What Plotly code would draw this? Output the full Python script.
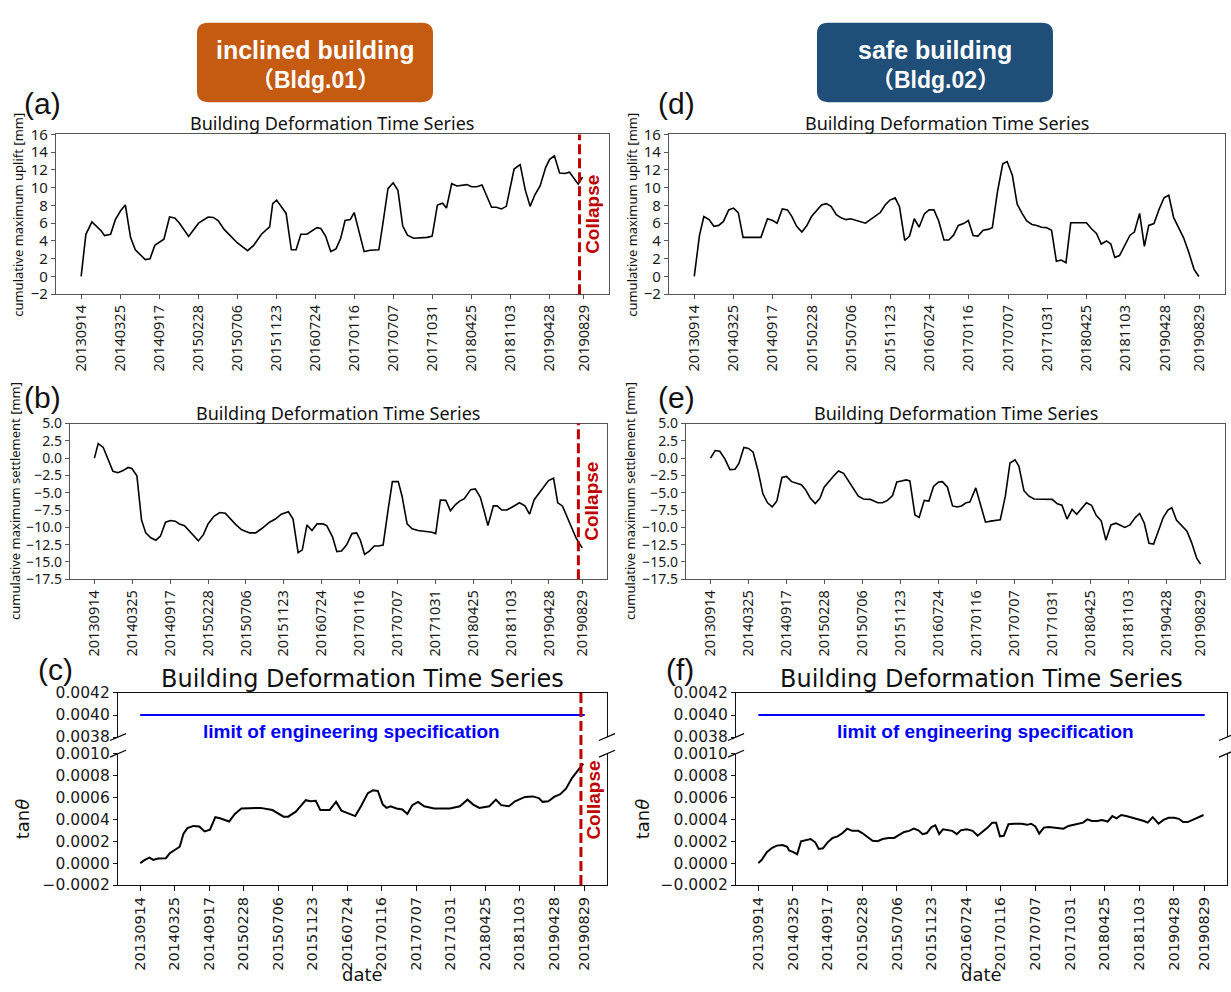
import plotly.graph_objects as go

W, H = 1231, 992

# ---------------- data ----------------
dates = ["20130914", "20140325", "20140917", "20150228", "20150706", "20151123", "20160724",
         "20170116", "20170707", "20171031", "20180425", "20181103", "20190428", "20190829"]
tick_idx = [0, 9, 18, 27, 36, 45, 54, 63, 72, 81, 90, 99, 108, 116]
collapse_idx = 115
limit_tan = 0.0040

# (a) Bldg.01 cumulative maximum uplift [mm]
a_idx = [0, 1.1, 2.5, 4.7, 5.4, 6.8, 7.9, 9.1, 10.2, 11.4, 12.5, 14.8, 15.9, 17.0, 19.1, 20.4, 21.6, 22.7,
         24.8, 27.1, 29.3, 30.5, 31.6, 33.0, 36.0, 38.4, 39.8, 41.6, 43.5, 44.2, 45.1, 47.3, 48.5, 49.6,
         50.7, 52.1, 54.4, 55.3, 56.4, 57.6, 58.8, 59.9, 60.9, 62.1, 63.0, 64.2, 65.3, 66.7, 68.7, 69.7,
         70.8, 72.0, 73.1, 74.2, 75.3, 76.7, 79.9, 81.0, 82.2, 83.4, 84.3, 85.5, 86.7, 89.0, 90.1, 91.3,
         92.5, 94.7, 95.8, 97.0, 98.1, 99.9, 101.3, 102.5, 103.6, 104.7, 105.9, 107.2, 108.1, 109.2,
         110.4, 111.6, 112.7, 114.7, 115.7]
a_val = [0.0, 4.75, 6.15, 5.1, 4.6, 4.75, 6.4, 7.4, 8.05, 4.4, 3.0, 1.9, 2.0, 3.5, 4.2, 6.7, 6.6, 6.0,
         4.5, 6.0, 6.7, 6.65, 6.3, 5.3, 3.8, 2.9, 3.5, 4.75, 5.6, 8.2, 8.6, 7.1, 3.0, 3.0, 4.75, 4.75,
         5.5, 5.4, 4.55, 2.8, 3.1, 4.3, 6.3, 6.4, 7.2, 4.75, 2.8, 2.95, 3.0, 6.2, 9.9, 10.55, 9.7, 5.7,
         4.65, 4.3, 4.4, 4.55, 8.05, 8.25, 7.7, 10.45, 10.2, 10.35, 10.1, 10.1, 10.3, 7.8, 7.8, 7.6, 7.9,
         12.1, 12.6, 9.7, 7.9, 9.2, 10.2, 12.3, 13.2, 13.6, 11.65, 11.6, 11.75, 10.4, 11.2]

# (b) Bldg.01 cumulative maximum settlement [mm]
b_idx = [0, 0.9, 2.1, 3.3, 4.4, 5.6, 6.8, 8.0, 8.9, 10.1, 11.2, 12.2, 13.4, 14.6, 15.7, 16.9, 18.1, 19.2,
         20.2, 21.4, 22.6, 23.7, 24.7, 25.9, 27.0, 28.4, 29.8, 31.1, 32.2, 33.6, 35.0, 36.9, 38.3, 39.7,
         41.6, 43.0, 44.4, 46.1, 47.2, 48.4, 49.4, 50.5, 51.7, 52.9, 54.3, 55.2, 56.6, 57.6, 58.7, 59.9,
         61.2, 62.3, 63.2, 64.2, 65.4, 66.5, 67.5, 68.6, 69.8, 70.8, 72.2, 73.1, 74.3, 75.5, 76.9, 79.2,
         80.2, 81.1, 82.2, 83.5, 84.6, 85.8, 86.8, 87.9, 89.4, 90.5, 91.7, 92.7, 93.5, 94.8, 95.7, 96.8,
         98.0, 99.3, 101.0, 102.3, 103.4, 104.5, 105.6, 107.9, 109.1, 110.1, 111.2, 113.1, 114.5, 115.9]
b_val = [0.0, 2.1, 1.55, -0.2, -1.9, -2.1, -1.8, -1.35, -1.5, -2.55, -8.95, -10.8, -11.5, -11.85, -11.25,
         -9.25, -9.0, -9.1, -9.5, -9.75, -10.55, -11.4, -11.95, -11.05, -9.5, -8.4, -7.85, -7.95, -8.7,
         -9.6, -10.35, -10.8, -10.8, -10.2, -9.25, -8.8, -8.1, -7.75, -8.8, -13.65, -13.25, -9.65, -10.45,
         -9.5, -9.5, -9.75, -11.4, -13.5, -13.4, -12.55, -10.9, -10.8, -11.85, -13.9, -13.4, -12.7, -12.7,
         -12.55, -7.4, -3.4, -3.4, -5.5, -9.5, -10.2, -10.45, -10.6, -10.7, -10.9, -6.05, -6.1, -7.6, -6.7,
         -6.2, -5.85, -4.55, -4.45, -5.65, -7.85, -9.75, -6.9, -6.9, -7.5, -7.5, -7.05, -6.45, -6.9, -8.1,
         -6.0, -5.05, -3.25, -2.9, -6.45, -6.9, -9.5, -11.6, -12.95]

# (c) Bldg.01 tan(theta), in units of 1e-4
c_idx = [0, 1.2, 2.4, 3.4, 4.6, 6.7, 7.7, 9.0, 10.3, 11.3, 12.3, 13.9, 15.4, 16.8, 18.2, 19.6, 20.8, 23.2,
         24.7, 26.4, 28.3, 31.4, 34.5, 37.4, 38.6, 40.6, 43.2, 44.4, 45.8, 47.0, 49.4, 51.1, 52.5, 54.0,
         56.1, 57.6, 59.4, 60.7, 62.0, 63.3, 64.3, 65.3, 66.9, 68.4, 69.7, 71.0, 72.5, 74.1, 76.7, 80.8,
         83.4, 85.4, 86.9, 88.5, 91.1, 92.8, 94.2, 96.2, 97.8, 100.4, 102.4, 104.0, 105.0, 106.5, 108.0,
         109.6, 111.1, 112.7, 114.2, 115.6]
c_val = [0.0, 0.3, 0.5, 0.3, 0.42, 0.45, 0.9, 1.2, 1.5, 2.7, 3.2, 3.4, 3.35, 2.9, 3.05, 4.2, 4.1, 3.8,
         4.5, 5.0, 5.0, 5.05, 4.85, 4.25, 4.25, 4.7, 5.75, 5.65, 5.7, 4.85, 4.85, 5.6, 4.8, 4.6, 4.3, 5.2,
         6.4, 6.65, 6.6, 5.35, 5.05, 5.2, 5.0, 4.9, 4.5, 5.3, 5.6, 5.2, 5.0, 5.0, 5.2, 5.8, 5.35, 5.05,
         5.2, 5.8, 5.3, 5.2, 5.65, 6.05, 6.1, 5.95, 5.6, 5.65, 6.05, 6.3, 6.8, 7.8, 8.5, 9.1]

# (d) Bldg.02 cumulative maximum uplift [mm]
d_idx = [0, 1.2, 2.2, 3.4, 4.5, 5.6, 6.7, 7.9, 9.0, 10.1, 11.2, 15.3, 16.8, 18.0, 19.0, 20.2, 21.4, 22.4,
         23.5, 24.7, 25.8, 26.9, 29.2, 30.3, 31.4, 32.6, 33.7, 34.8, 35.9, 37.1, 38.2, 39.3, 40.4, 42.7,
         43.8, 44.9, 46.1, 47.1, 48.3, 49.4, 50.5, 51.6, 52.8, 53.9, 55.0, 56.1, 57.3, 58.4, 59.5, 60.6,
         61.8, 62.9, 64.0, 65.1, 66.3, 67.4, 68.4, 69.6, 70.8, 71.8, 73.0, 74.1, 75.3, 76.3, 77.5, 78.6,
         79.7, 80.8, 82.0, 83.1, 84.2, 85.3, 86.4, 88.6, 90.0, 91.1, 92.3, 93.4, 94.6, 95.6, 96.5, 97.6,
         98.8, 100.0, 101.0, 102.2, 103.3, 104.3, 105.5, 106.7, 107.8, 108.9, 110.0, 111.2, 112.3, 113.4,
         114.7, 115.8]
d_val = [0.0, 4.65, 6.75, 6.4, 5.65, 5.75, 6.2, 7.5, 7.7, 7.2, 4.4, 4.4, 6.5, 6.3, 6.0, 7.6, 7.5, 6.75,
         5.65, 5.0, 5.7, 6.75, 8.05, 8.2, 7.9, 6.95, 6.6, 6.4, 6.5, 6.3, 6.1, 6.0, 6.4, 7.2, 8.05, 8.6,
         8.85, 7.85, 4.05, 4.55, 6.5, 5.55, 7.05, 7.5, 7.5, 6.25, 4.1, 4.1, 4.65, 5.75, 5.95, 6.3, 4.6,
         4.55, 5.2, 5.3, 5.5, 9.6, 12.7, 12.95, 11.4, 8.15, 7.05, 6.25, 5.85, 5.75, 5.55, 5.5, 5.2, 1.7,
         1.85, 1.55, 6.05, 6.1, 6.05, 5.4, 4.85, 3.65, 4.0, 3.65, 2.15, 2.35, 3.55, 4.65, 5.0, 7.1, 3.4,
         5.75, 5.95, 7.6, 8.85, 9.15, 6.65, 5.4, 4.35, 2.85, 0.8, 0.0]

# (e) Bldg.02 cumulative maximum settlement [mm]
e_idx = [0, 1.1, 2.2, 3.4, 4.6, 5.8, 6.7, 7.9, 9.0, 10.1, 11.3, 12.4, 13.5, 14.6, 15.7, 16.9, 18.0, 19.2,
         21.5, 22.5, 23.6, 24.8, 25.9, 26.9, 29.2, 30.3, 31.5, 32.7, 33.9, 35.0, 36.2, 37.8, 38.7, 39.6,
         40.7, 41.9, 43.1, 44.1, 45.2, 46.3, 47.2, 48.4, 49.4, 50.6, 51.7, 52.8, 54.0, 54.9, 56.1, 57.3,
         58.4, 59.4, 60.5, 61.4, 62.8, 63.9, 65.1, 66.3, 67.5, 68.6, 69.8, 70.9, 72.1, 73.0, 74.2, 75.4,
         76.6, 78.6, 80.9, 82.1, 83.2, 84.4, 85.6, 86.7, 87.9, 89.0, 90.2, 91.3, 92.5, 93.6, 94.8, 96.0,
         98.1, 99.3, 100.6, 101.6, 102.7, 103.8, 104.9, 106.2, 107.2, 108.3, 109.2, 110.3, 111.5, 112.8,
         113.9, 115.1, 116.0]
e_val = [0.0, 1.1, 1.0, -0.1, -1.65, -1.6, -0.8, 1.55, 1.4, 0.85, -1.95, -5.15, -6.45, -7.05, -6.2, -2.8,
         -2.65, -3.4, -3.85, -4.55, -5.75, -6.55, -5.8, -4.2, -2.55, -1.85, -2.2, -3.3, -4.4, -5.5, -5.9,
         -5.95, -6.2, -6.45, -6.45, -6.1, -5.4, -3.45, -3.3, -3.15, -3.3, -8.2, -8.55, -6.1, -6.2, -4.1,
         -3.45, -3.4, -4.2, -6.9, -7.05, -6.9, -6.45, -6.35, -4.3, -6.7, -9.25, -9.1, -9.05, -8.9, -5.5,
         -0.7, -0.25, -1.15, -4.7, -5.5, -5.9, -5.95, -5.95, -6.6, -6.8, -8.8, -7.4, -8.1, -7.3, -6.45,
         -6.8, -8.25, -9.05, -11.85, -9.65, -9.4, -10.0, -9.65, -8.55, -8.0, -9.4, -12.3, -12.4, -10.3,
         -8.55, -7.5, -7.15, -8.95, -9.65, -10.55, -12.2, -14.45, -15.3]

# (f) Bldg.02 tan(theta), in units of 1e-4
f_idx = [0, 0.9, 2.2, 3.6, 4.8, 6.3, 7.5, 8.0, 9.1, 10.1, 11.1, 12.4, 13.6, 14.8, 15.7, 16.8, 18.0, 19.3,
         20.6, 21.9, 23.1, 24.4, 26.0, 27.0, 28.2, 29.7, 31.0, 32.3, 33.8, 35.3, 36.5, 37.9, 39.2, 40.4,
         41.6, 42.7, 43.8, 45.0, 46.0, 47.0, 48.0, 49.4, 50.4, 51.6, 52.6, 54.1, 55.7, 57.0, 58.2, 59.6,
         60.8, 61.8, 62.8, 63.8, 65.0, 66.4, 68.4, 69.9, 70.9, 72.0, 73.0, 74.2, 75.5, 76.9, 78.1, 79.3,
         80.6, 81.9, 83.2, 84.4, 85.5, 86.7, 88.1, 89.3, 90.8, 92.0, 93.1, 94.3, 95.6, 97.2, 98.9, 100.2,
         101.2, 102.5, 104.0, 105.3, 106.6, 108.1, 109.3, 110.4, 111.6, 112.9, 114.5, 115.7]
f_val = [0.0, 0.3, 1.0, 1.4, 1.6, 1.65, 1.5, 1.15, 1.0, 0.8, 2.0, 2.1, 2.2, 1.9, 1.3, 1.35, 1.9, 2.3,
         2.45, 2.75, 3.15, 2.95, 2.95, 2.75, 2.45, 2.05, 2.0, 2.2, 2.3, 2.3, 2.55, 2.85, 2.95, 3.15, 3.0,
         2.65, 2.75, 3.3, 3.45, 2.65, 3.1, 3.05, 2.95, 2.65, 3.0, 3.1, 2.95, 2.5, 2.85, 3.25, 3.7, 3.7,
         2.45, 2.5, 3.55, 3.6, 3.6, 3.5, 3.6, 3.35, 2.7, 3.25, 3.3, 3.25, 3.2, 3.15, 3.4, 3.5, 3.55, 3.7,
         4.0, 3.85, 3.85, 3.95, 3.8, 4.3, 4.1, 4.4, 4.3, 4.15, 4.0, 3.85, 3.7, 4.2, 3.6, 3.95, 4.15, 4.15,
         4.05, 3.75, 3.75, 3.95, 4.15, 4.4]

uplift_ticks = [-2, 0, 2, 4, 6, 8, 10, 12, 14, 16]
settle_ticks = [-17.5, -15.0, -12.5, -10.0, -7.5, -5.0, -2.5, 0.0, 2.5, 5.0]
tan_up_ticks = [0.0038, 0.0040, 0.0042]
tan_low_ticks = [-0.0002, 0.0, 0.0002, 0.0004, 0.0006, 0.0008, 0.0010]
TAN_UNIT = 1e-4

# ---------------- layout helpers (pixel boxes) ----------------
def fx(px):
    return px / W


def fy(py):
    return 1 - py / H


boxes = {
    "a": (56, 126, 609, 289),
    "b": (70, 421, 607, 580),
    "c_up": (118, 696, 607, 741),
    "c_low": (118, 758, 607, 892),
    "d": (669, 126, 1225, 289),
    "e": (686, 421, 1225, 580),
    "f_up": (736, 696, 1227, 741),
    "f_low": (736, 758, 1227, 892),
}
order = ["a", "b", "c_up", "c_low", "d", "e", "f_up", "f_low"]
num = {k: i + 1 for i, k in enumerate(order)}


def ax_names(k):
    n = num[k]
    return ("x" if n == 1 else f"x{n}"), ("y" if n == 1 else f"y{n}")


XR = [-5.8, 121.8]
SANS = "Noto Sans, Open Sans, DejaVu Sans, sans-serif"
DJV = "DejaVu Sans, sans-serif"
ARIAL = "Liberation Sans, Arial, sans-serif"
NARROW = "Liberation Sans Narrow, Liberation Sans, Arial, sans-serif"
RED = "#C00000"
BLUE = "#0000FF"

fig = go.Figure()

# ---------------- traces ----------------
def add_line(k, xs, ys, width, color="black"):
    xa, ya = ax_names(k)
    fig.add_trace(go.Scatter(x=xs, y=ys, mode="lines", xaxis=xa, yaxis=ya,
                             line=dict(color=color, width=width), showlegend=False,
                             hoverinfo="skip"))


add_line("a", a_idx, a_val, 1.6)
add_line("b", b_idx, b_val, 1.6)
add_line("c_low", c_idx, [v * TAN_UNIT for v in c_val], 2.0)
add_line("d", d_idx, d_val, 1.6)
add_line("e", e_idx, e_val, 1.6)
add_line("f_low", f_idx, [v * TAN_UNIT for v in f_val], 2.0)
add_line("c_up", [tick_idx[0], tick_idx[-1]], [limit_tan, limit_tan], 2.0, BLUE)
add_line("f_up", [tick_idx[0], tick_idx[-1]], [limit_tan, limit_tan], 2.0, BLUE)

# ---------------- axes ----------------
layout_axes = {}
for k in order:
    x0, y0, x1, y1 = boxes[k]
    n = num[k]
    xkey = "xaxis" if n == 1 else f"xaxis{n}"
    ykey = "yaxis" if n == 1 else f"yaxis{n}"
    xa, ya = ax_names(k)
    tan_panel = k.startswith("c") or k.startswith("f")
    if tan_panel:
        ysize = 15.5
    elif k in ("b", "e"):
        ysize = 14
    else:
        ysize = 15
    ytick_font = dict(family=DJV if tan_panel else SANS, size=ysize, color="#1a1a1a")
    xtick_font = dict(family=DJV if tan_panel else SANS, size=14.5, color="#1a1a1a")
    line_col = "#111" if tan_panel else "#555"
    xd = dict(domain=[fx(x0), fx(x1)], anchor=ya, range=XR, showgrid=False, zeroline=False,
              showline=True, linecolor=line_col, linewidth=1.2)
    yd = dict(domain=[fy(y1), fy(y0)], anchor=xa, showgrid=False, zeroline=False,
              showline=True, mirror=True, linecolor=line_col, linewidth=1.2,
              ticks="outside", ticklen=4, tickcolor=line_col, tickfont=ytick_font)
    if k.endswith("_up"):
        xd.update(side="top", showticklabels=False, ticks="")
    else:
        xd.update(tickmode="array", tickvals=tick_idx, ticktext=dates, tickangle=-90,
                  ticks="outside", ticklen=5 if tan_panel else 4, tickcolor=line_col,
                  tickfont=xtick_font)
        if not k.endswith("_low"):
            xd.update(mirror=True)
    if k in ("a", "d"):
        yd.update(range=[-2, 16], tickmode="array", tickvals=uplift_ticks)
    elif k in ("b", "e"):
        yd.update(range=[-17.5, 5], tickmode="array", tickvals=settle_ticks, tickformat=".1f")
    elif k.endswith("_up"):
        yd.update(range=[tan_up_ticks[0] - 1e-9, tan_up_ticks[-1] + 1e-9], tickmode="array",
                  tickvals=tan_up_ticks, tickformat=".4f")
    else:
        yd.update(range=[tan_low_ticks[0] - 1e-9, tan_low_ticks[-1] + 1e-9], tickmode="array",
                  tickvals=tan_low_ticks, tickformat=".4f")
    layout_axes[xkey] = xd
    layout_axes[ykey] = yd

fig.update_layout(**layout_axes)

# ---------------- shapes ----------------
shapes = []


def rounded_rect(x0, y0, x1, y1, r, color):
    pts = [("M", [(x0 + r, y0)]), ("L", [(x1 - r, y0)]), ("Q", [(x1, y0), (x1, y0 + r)]),
           ("L", [(x1, y1 - r)]), ("Q", [(x1, y1), (x1 - r, y1)]), ("L", [(x0 + r, y1)]),
           ("Q", [(x0, y1), (x0, y1 - r)]), ("L", [(x0, y0 + r)]), ("Q", [(x0, y0), (x0 + r, y0)])]
    path = ""
    for cmd, ps in pts:
        path += cmd + " " + " ".join(f"{fx(px):.5f},{fy(py):.5f}" for px, py in ps) + " "
    path += "Z"
    return dict(type="path", path=path, xref="paper", yref="paper",
                fillcolor=color, line=dict(width=0), layer="below")


shapes.append(rounded_rect(197, 12, 433, 93, 11, "#C55A11"))
shapes.append(rounded_rect(817, 12, 1053, 93, 11, "#1F4E79"))

# collapse lines
collapse_dash = dict(color=RED, width=3, dash="10px,4px")
for k in ("a", "b"):
    xa, ya = ax_names(k)
    shapes.append(dict(type="line", xref=xa, yref=f"{ya} domain", x0=collapse_idx, x1=collapse_idx,
                       y0=0, y1=1, line=collapse_dash))
xa_c, _ = ax_names("c_low")
shapes.append(dict(type="line", xref=xa_c, yref="paper", x0=collapse_idx, x1=collapse_idx,
                   y0=fy(boxes["c_low"][3]), y1=fy(boxes["c_up"][1]), line=collapse_dash))

# break marks
for up, low in (("c_up", "c_low"), ("f_up", "f_low")):
    for xs in (boxes[up][0], boxes[up][2]):
        for ys in (boxes[up][3], boxes[low][1]):
            shapes.append(dict(type="line", xref="paper", yref="paper",
                               x0=fx(xs - 8), y0=fy(ys + 3.5), x1=fx(xs + 8), y1=fy(ys - 3.5),
                               line=dict(color="black", width=1.2)))

fig.update_layout(shapes=shapes)

# ---------------- annotations ----------------
anns = []


def ann(text, xp, yp, size, family, color="#111", angle=0, **kw):
    d = dict(text=text, x=fx(xp), y=fy(yp), xref="paper", yref="paper", showarrow=False,
             xanchor="center", yanchor="middle", textangle=angle,
             font=dict(size=size, family=family, color=color))
    d.update(kw)
    anns.append(d)


# header boxes
HEAD = "Liberation Sans Narrow, Liberation Sans, Noto Sans CJK SC, sans-serif"
ann("<b>inclined building</b>", 315, 40, 25, HEAD, "white")
ann("<b>（Bldg.01）</b>", 315, 70, 23, HEAD, "white")
ann("<b>safe building</b>", 935, 40, 25, HEAD, "white")
ann("<b>（Bldg.02）</b>", 935, 70, 23, HEAD, "white")

# panel letters
for lab, xp, yp in (("(a)", 42, 94), ("(b)", 42, 394), ("(c)", 55, 672),
                    ("(d)", 677, 94), ("(e)", 677, 394), ("(f)", 680, 672)):
    ann(lab, xp, yp, 30, ARIAL, "#111")

# titles
title = "Building Deformation Time Series"
for k, yp in (("a", 114), ("b", 410), ("d", 114), ("e", 410)):
    x0, _, x1, _ = boxes[k]
    ann(title, (x0 + x1) / 2, yp, 18, SANS)
for k in ("c_up", "f_up"):
    x0, _, x1, _ = boxes[k]
    ann(title, (x0 + x1) / 2, 682, 24, DJV)

# y labels
ann("cumulative maximum uplift [mm]", 18, 208, 13, SANS, angle=-90)
ann("cumulative maximum settlement [mm]", 15, 500, 13, SANS, angle=-90)
ann("cumulative maximum uplift [mm]", 632, 208, 13, SANS, angle=-90)
ann("cumulative maximum settlement [mm]", 630, 500, 13, SANS, angle=-90)
ann("tan<i>θ</i>", 22, 825, 18, DJV, angle=-90)
ann("tan<i>θ</i>", 642, 825, 18, DJV, angle=-90)

# x labels
for k in ("c_low", "f_low"):
    x0, _, x1, _ = boxes[k]
    ann("date", (x0 + x1) / 2, 983, 18, DJV)

# collapse labels
for k in ("a", "b"):
    xa, ya = ax_names(k)
    anns.append(dict(text="<b>Collapse</b>", x=collapse_idx, y=0.5, xref=xa, yref=f"{ya} domain",
                     showarrow=False, textangle=-90, xshift=13, xanchor="center", yanchor="middle",
                     font=dict(size=19, family=ARIAL, color=RED)))
xa, ya = ax_names("c_low")
anns.append(dict(text="<b>Collapse</b>", x=collapse_idx, y=0.00058, xref=xa, yref=ya,
                 showarrow=False, textangle=-90, xshift=13, xanchor="center", yanchor="middle",
                 font=dict(size=19, family=ARIAL, color=RED)))

# limit text
for k, xc in (("c_up", 55), ("f_up", 59)):
    xa, ya = ax_names(k)
    anns.append(dict(text="<b>limit of engineering specification</b>", x=xc, y=0.00385,
                     xref=xa, yref=ya, showarrow=False, xanchor="center", yanchor="middle",
                     font=dict(size=19, family=NARROW, color=BLUE)))

fig.update_layout(annotations=anns)

fig.update_layout(width=W, height=H, autosize=False, margin=dict(l=0, r=0, t=0, b=0),
                  paper_bgcolor="white", plot_bgcolor="white", showlegend=False)

fig.write_html("out.html", config={"displayModeBar": False},
               post_script="document.body.style.margin='0px';")
